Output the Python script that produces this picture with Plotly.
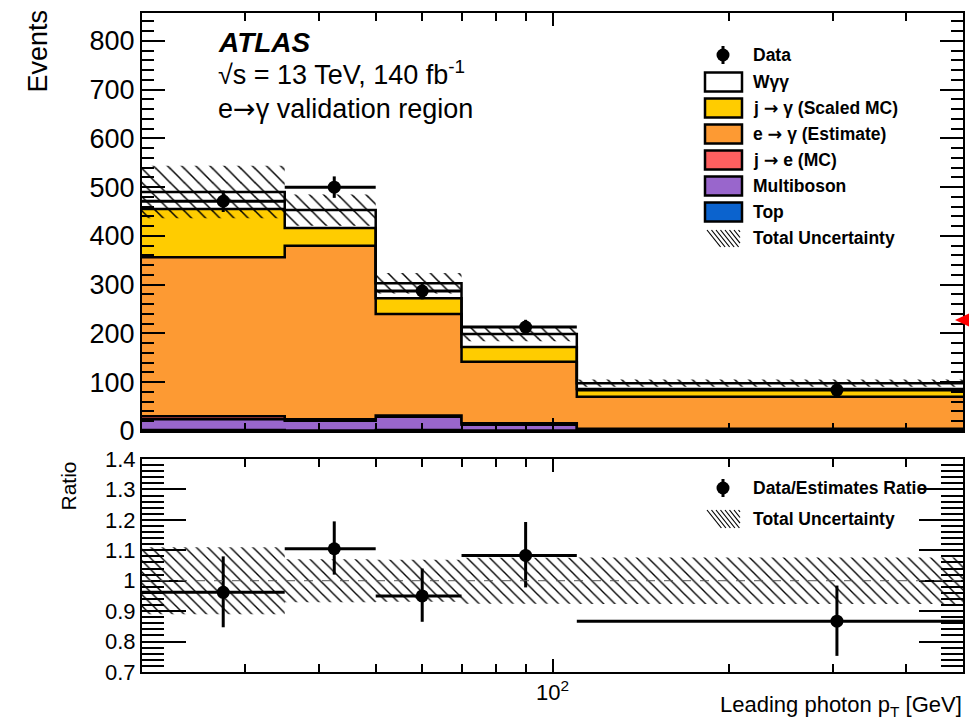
import numpy as np
import plotly.graph_objects as go

# ---------------- data ----------------
bin_edges = [20, 35, 50, 70, 110, 500]
bin_centres = [27.5, 42.5, 60, 90, 305]

top_mc = [2, 1, 2, 1, 0.5]
multiboson = [22, 20, 27, 12, 3]
j_to_e = [6, 3, 3, 3, 1]
e_to_gamma = [326, 356, 208, 126, 65.5]
j_to_gamma = [99, 36, 32, 30, 16]
w_gamma_gamma = [35, 37, 31, 27, 12]
total_unc = [54, 32, 21, 15, 7.5]

data_events = [471, 500, 287, 213, 84]
data_err = [22, 22, 17, 15, 9]

ratio_vals = [0.962, 1.105, 0.950, 1.083, 0.867]
ratio_err_up = [0.118, 0.090, 0.090, 0.110, 0.117]
ratio_err_down = [0.115, 0.085, 0.085, 0.105, 0.114]

main_yticks = [0, 100, 200, 300, 400, 500, 600, 700, 800]
ratio_yticks = [0.7, 0.8, 0.9, 1.0, 1.1, 1.2, 1.3, 1.4]
ratio_yticklabels = ["0.7", "0.8", "0.9", "1", "1.1", "1.2", "1.3", "1.4"]
x_major_ticks = [100]
x_major_labels = ["10<sup>2</sup>"]
x_minor_ticks = [30, 40, 50, 60, 70, 80, 90, 200, 300, 400]

component_names = ["Top", "Multiboson", "j → e (MC)", "e → γ (Estimate)",
                   "j → γ (Scaled MC)", "Wγγ"]
component_colors = ["#0B63CE", "#9966CC", "#FF6060", "#FD9A33", "#FFCC00", "#FFFFFF"]
components = [top_mc, multiboson, j_to_e, e_to_gamma, j_to_gamma, w_gamma_gamma]

FONT = "Liberation Sans, Arial, sans-serif"
ARROW = '<span style="font-family:DejaVu Sans">→</span>'

# ---------------- geometry helpers (layout only) ----------------
W_FIG, H_FIG = 969, 724
L, R, T, B = 142, 963, 13, 672
PW, PH = R - L, B - T


def px(x):
    return (x - L) / PW


def py(y):
    return (B - y) / PH


def step(vals):
    return list(vals) + [vals[-1]]


edges = np.array(bin_edges, dtype=float)
centres = np.array(bin_centres, dtype=float)
xerr_plus = edges[1:] - centres
xerr_minus = centres - edges[:-1]

cum = np.cumsum(np.array(components, dtype=float), axis=0)
total = cum[-1]
unc = np.array(total_unc, dtype=float)
rel_unc = unc / total

fig = go.Figure()

# stacked histograms
for i, (name, col) in enumerate(zip(component_names, component_colors)):
    fig.add_trace(go.Scatter(
        x=bin_edges, y=step(cum[i]), mode="lines", line_shape="hv",
        line=dict(color="black", width=2.5),
        fill="tozeroy" if i == 0 else "tonexty", fillcolor=col,
        name=name, showlegend=False, hoverinfo="skip",
        xaxis="x", yaxis="y"))

# total uncertainty band (main)
fig.add_trace(go.Scatter(
    x=bin_edges, y=step(total - unc), mode="lines", line_shape="hv",
    line=dict(width=0, color="rgba(0,0,0,0)"), showlegend=False,
    hoverinfo="skip", xaxis="x", yaxis="y"))
fig.add_trace(go.Scatter(
    x=bin_edges, y=step(total + unc), mode="lines", line_shape="hv",
    line=dict(width=0, color="rgba(0,0,0,0)"), fill="tonexty",
    fillcolor="rgba(0,0,0,0)",
    fillpattern=dict(shape="\\", fgcolor="black", fgopacity=1,
                     bgcolor="rgba(0,0,0,0)", size=10, solidity=0.15,
                     fillmode="overlay"),
    showlegend=False, hoverinfo="skip", xaxis="x", yaxis="y"))

# data (main)
fig.add_trace(go.Scatter(
    x=bin_centres, y=data_events, mode="markers",
    marker=dict(color="black", size=13),
    error_x=dict(type="data", symmetric=False, array=xerr_plus,
                 arrayminus=xerr_minus, color="black", thickness=3, width=0),
    error_y=dict(type="data", array=data_err, color="black", thickness=3, width=0),
    showlegend=False, hoverinfo="skip", xaxis="x", yaxis="y"))

# ratio uncertainty band
fig.add_trace(go.Scatter(
    x=bin_edges, y=step(1 - rel_unc), mode="lines", line_shape="hv",
    line=dict(width=0, color="rgba(0,0,0,0)"), showlegend=False,
    hoverinfo="skip", xaxis="x2", yaxis="y2"))
fig.add_trace(go.Scatter(
    x=bin_edges, y=step(1 + rel_unc), mode="lines", line_shape="hv",
    line=dict(width=0, color="rgba(0,0,0,0)"), fill="tonexty",
    fillcolor="rgba(0,0,0,0)",
    fillpattern=dict(shape="\\", fgcolor="black", fgopacity=1,
                     bgcolor="rgba(0,0,0,0)", size=8, solidity=0.17,
                     fillmode="overlay"),
    showlegend=False, hoverinfo="skip", xaxis="x2", yaxis="y2"))

# ratio data
fig.add_trace(go.Scatter(
    x=bin_centres, y=ratio_vals, mode="markers",
    marker=dict(color="black", size=13),
    error_x=dict(type="data", symmetric=False, array=xerr_plus,
                 arrayminus=xerr_minus, color="black", thickness=3, width=0),
    error_y=dict(type="data", symmetric=False, array=ratio_err_up,
                 arrayminus=ratio_err_down, color="black", thickness=3, width=0),
    showlegend=False, hoverinfo="skip", xaxis="x2", yaxis="y2"))

xrange = [np.log10(bin_edges[0]), np.log10(bin_edges[-1])]
main_bottom = py(431)
ratio_top = py(459)

common_ax = dict(showline=True, linecolor="black", linewidth=2, mirror="allticks",
                 ticks="inside", tickcolor="black", showgrid=False, zeroline=False,
                 automargin=False)

minor_x = dict(tickmode="array", tickvals=x_minor_ticks, ticks="inside",
               ticklen=8, tickwidth=1.5, tickcolor="black", showgrid=False)

fig.update_layout(
    width=W_FIG, height=H_FIG,
    margin=dict(l=L, r=W_FIG - R, t=T, b=H_FIG - B, autoexpand=False),
    paper_bgcolor="white", plot_bgcolor="white",
    font=dict(family=FONT, color="black"),
    showlegend=False,
    xaxis=dict(type="log", range=xrange, domain=[0, 1], anchor="y",
               tickmode="array", tickvals=x_major_ticks, showticklabels=False,
               ticklen=13, tickwidth=1.5, minor=minor_x, **common_ax),
    yaxis=dict(range=[0, 857], domain=[main_bottom, 1], anchor="x",
               tickmode="array", tickvals=main_yticks, ticklen=23, tickwidth=1.5,
               tickfont=dict(size=27, family=FONT),
               minor=dict(dtick=20, tick0=0, ticks="inside", ticklen=12,
                          tickwidth=1.5, tickcolor="black", showgrid=False),
               **common_ax),
    xaxis2=dict(type="log", range=xrange, domain=[0, 1], anchor="y2",
                tickmode="array", tickvals=x_major_ticks, ticktext=x_major_labels,
                tickfont=dict(size=22, family=FONT),
                ticklen=13, tickwidth=1.5, minor=minor_x, **common_ax),
    yaxis2=dict(range=[0.7, 1.4], domain=[0, ratio_top], anchor="x2",
                tickmode="array", tickvals=ratio_yticks, ticktext=ratio_yticklabels,
                ticklen=44, tickwidth=1.5, tickfont=dict(size=22, family=FONT),
                minor=dict(dtick=0.02, tick0=0.7, ticks="inside", ticklen=22,
                           tickwidth=1.5, tickcolor="black", showgrid=False),
                **common_ax),
)

shapes = []
annotations = []

# dashed unity line in ratio panel
shapes.append(dict(type="line", xref="x2 domain", yref="y2", x0=0, x1=1, y0=1, y1=1,
                   line=dict(color="#555555", width=1, dash="dash"), layer="above"))


def text(x, y, s, size, anchor="left", yanchor="middle", angle=0):
    annotations.append(dict(xref="paper", yref="paper", x=px(x), y=py(y), text=s,
                            showarrow=False, xanchor=anchor, yanchor=yanchor,
                            textangle=angle,
                            font=dict(size=size, family=FONT, color="black")))


# axis titles
text(37, 8, "Events", 27, anchor="center", yanchor="top", angle=-90)
text(68, 460, "Ratio", 21, anchor="center", yanchor="top", angle=-90)
text(964, 706, "Leading photon p<sub>T</sub> [GeV]", 22, anchor="right")

# ATLAS label
text(216, 43, "<b><i>ATLAS</i></b>", 28)
text(216, 73, "√s = 13 TeV, 140 fb<sup>-1</sup>", 27)
text(216, 109, f"e{ARROW}γ validation region", 27)


def hatch_icon(x0, y0, x1, y1, step_px=4.5):
    xs = np.arange(x0, x1, step_px)
    h = y1 - y0
    for xa in xs:
        xb = min(xa + h * 0.8, x1)
        yb = y0 + (xb - xa) / 0.8
        shapes.append(dict(type="line", xref="paper", yref="paper",
                           x0=px(xa), y0=py(y0), x1=px(xb), y1=py(yb),
                           line=dict(color="black", width=1.2)))


def data_icon(xc, yc):
    r = 6.5
    shapes.append(dict(type="circle", xref="paper", yref="paper",
                       x0=px(xc - r), x1=px(xc + r), y0=py(yc + r), y1=py(yc - r),
                       fillcolor="black", line=dict(color="black", width=0)))
    shapes.append(dict(type="line", xref="paper", yref="paper",
                       x0=px(xc), x1=px(xc), y0=py(yc - 9), y1=py(yc + 9),
                       line=dict(color="black", width=3)))


LEG_FS = 17.5
# main legend
legend_rows = [55, 82, 108, 134, 160, 186, 212, 238]
legend_text_x = 751
data_icon(723, legend_rows[0])
text(legend_text_x, legend_rows[0], "<b>Data</b>", LEG_FS)
legend_order = [5, 4, 3, 2, 1, 0]
legend_labels = ["Wγγ", f"j {ARROW} γ (Scaled MC)", f"e {ARROW} γ (Estimate)",
                 f"j {ARROW} e (MC)", "Multiboson", "Top"]
for row, idx, lab in zip(legend_rows[1:7], legend_order, legend_labels):
    shapes.append(dict(type="rect", xref="paper", yref="paper",
                       x0=px(705), x1=px(742), y0=py(row - 9.5), y1=py(row + 9.5),
                       fillcolor=component_colors[idx],
                       line=dict(color="black", width=2.5)))
    text(legend_text_x, row, f"<b>{lab}</b>", LEG_FS)
hatch_icon(707, legend_rows[7] - 8, 740, legend_rows[7] + 9)
text(legend_text_x, legend_rows[7], "<b>Total Uncertainty</b>", LEG_FS)

# ratio legend
data_icon(723, 488)
text(legend_text_x, 488, "<b>Data/Estimates Ratio</b>", LEG_FS)
hatch_icon(707, 510, 740, 528)
text(legend_text_x, 519, "<b>Total Uncertainty</b>", LEG_FS)

# red marker on right edge
shapes.append(dict(type="path", xref="paper", yref="paper",
                   path=f"M {px(955)},{py(320)} L {px(970)},{py(313)} L {px(970)},{py(327)} Z",
                   fillcolor="red", line=dict(color="red", width=0)))

fig.update_layout(shapes=shapes, annotations=annotations)

fig.write_html("out.html", config={"displayModeBar": False},
               post_script="document.body.style.margin='0';document.body.style.overflow='hidden';")
